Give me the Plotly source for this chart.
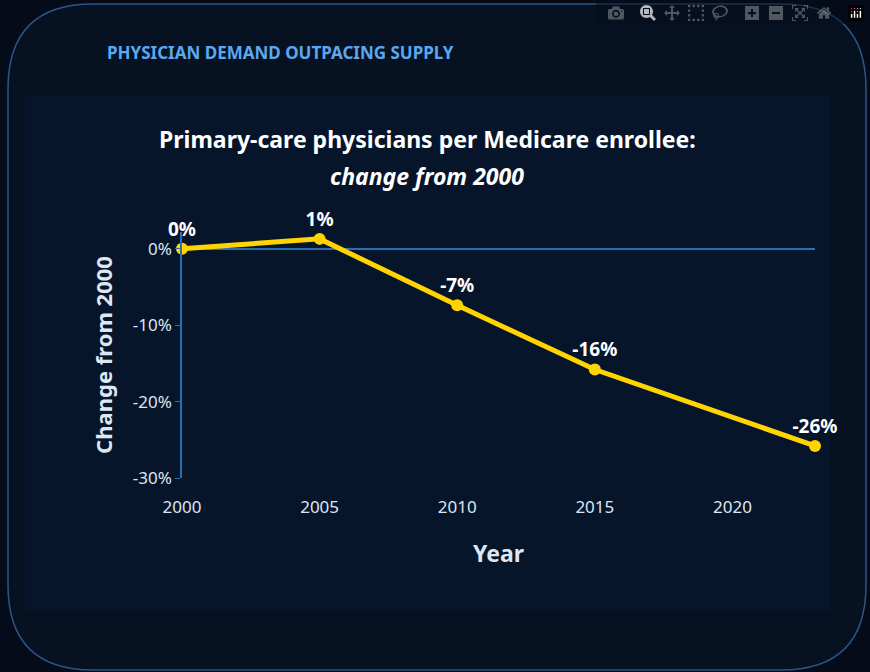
import plotly.graph_objects as go

years = [2000, 2005, 2010, 2015, 2023]
change_pct = [0.0, 1.3, -7.4, -15.8, -25.8]
point_labels = ["0%", "1%", "-7%", "-16%", "-26%"]
y_ticks = [0, -10, -20, -30]
y_tick_labels = ["0%", "-10%", "-20%", "-30%"]
x_ticks = [2000, 2005, 2010, 2015, 2020]

W, H = 870, 672
ML, MR, MT, MB = 182, 55, 232, 194
PW, PH = W - ML - MR, H - MT - MB


# paper coords in plotly refer to the plot area, so convert from page pixels
def px_x(x):
    return (x - ML) / PW


def px_y(y):
    return (H - MB - y) / PH


def rounded_rect(x0, y0, x1, y1, r):
    def p(x, y):
        return f"{px_x(x):.5f},{px_y(y):.5f}"
    return (f"M {p(x0 + r, y0)} L {p(x1 - r, y0)} Q {p(x1, y0)} {p(x1, y0 + r)} "
            f"L {p(x1, y1 - r)} Q {p(x1, y1)} {p(x1 - r, y1)} L {p(x0 + r, y1)} "
            f"Q {p(x0, y1)} {p(x0, y1 - r)} L {p(x0, y0 + r)} Q {p(x0, y0)} {p(x0 + r, y0)} Z")


fig = go.Figure()
fig.add_trace(go.Scatter(
    x=years, y=change_pct,
    mode="lines+markers+text",
    line=dict(color="#ffd400", width=5),
    marker=dict(color="#ffd400", size=12),
    text=point_labels,
    textposition="top center",
    textfont=dict(color="white", size=19, family="Noto Sans", weight="bold"),
    cliponaxis=False,
    hoverinfo="skip",
    showlegend=False,
))

fig.update_layout(
    width=W, height=H,
    margin=dict(l=ML, r=MR, t=MT, b=MB),
    paper_bgcolor="#050b18",
    plot_bgcolor="rgba(0,0,0,0)",
    font=dict(family="Noto Sans", color="#dde6f2"),
    shapes=[
        dict(type="path", xref="paper", yref="paper", layer="below",
             path=rounded_rect(8, 4, 866, 670, 85),
             fillcolor="#061222", line=dict(color="#2b5586", width=1.5)),
        dict(type="rect", xref="paper", yref="paper", layer="below",
             x0=px_x(25), x1=px_x(830), y0=px_y(610), y1=px_y(95),
             fillcolor="#06152a", line=dict(width=0)),
    ],
    annotations=[
        dict(text="<b>PHYSICIAN DEMAND OUTPACING SUPPLY</b>", xref="paper", yref="paper",
             x=px_x(105), y=px_y(52), xanchor="left", yanchor="middle", showarrow=False,
             font=dict(size=17, color="#5ba8f0")),
        dict(text="<b>Primary-care physicians per Medicare enrollee:</b>", xref="paper", yref="paper",
             x=px_x(427), y=px_y(139), xanchor="center", yanchor="middle", showarrow=False,
             font=dict(size=23, color="white")),
        dict(text="<b><i>change from 2000</i></b>", xref="paper", yref="paper",
             x=px_x(427), y=px_y(176), xanchor="center", yanchor="middle", showarrow=False,
             font=dict(size=23, color="white")),
    ],
    xaxis=dict(
        range=[2000, 2023], tickvals=x_ticks, ticks="outside", ticklen=14,
        tickcolor="rgba(0,0,0,0)", showgrid=False,
        zeroline=False, showline=False, tickfont=dict(size=17, color="#dde6f2"),
        title=dict(text="<b>Year</b>", font=dict(size=23, color="#dde6f2"), standoff=28),
    ),
    yaxis=dict(
        range=[-30, 2.2], tickvals=y_ticks, ticktext=y_tick_labels,
        ticks="outside", ticklen=5, tickcolor="#2a6fb0",
        showline=True, linecolor="#2a6fb0", linewidth=1.5,
        showgrid=False, zeroline=True, zerolinecolor="#2a6fb0", zerolinewidth=1.5,
        tickfont=dict(size=17, color="#dde6f2"),
        title=dict(text="<b>Change from 2000</b>", font=dict(size=22, color="#dde6f2"), standoff=14),
    ),
)

fig.write_html("out.html", post_script="document.body.style.margin='0';")
